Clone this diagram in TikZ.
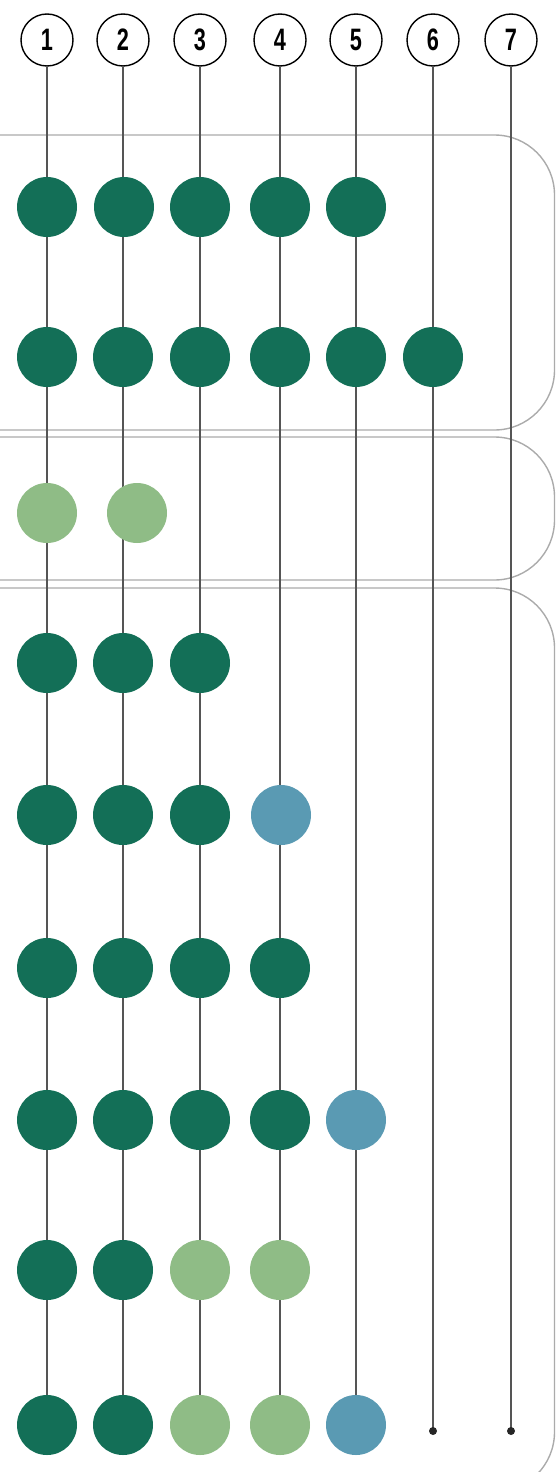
\documentclass[tikz,border=0pt]{standalone}
\usepackage{fontspec}
\newfontfamily\numfont{Liberation Sans}[FakeStretch=0.7]
\usetikzlibrary{backgrounds}
\definecolor{deepgreen}{HTML}{136F57}
\definecolor{palegreen}{HTML}{8FBC86}
\definecolor{steelblue}{HTML}{5A9AB3}
\definecolor{railgray}{HTML}{555555}
\definecolor{framegray}{HTML}{ABABAB}
\tikzset{
  every node/.style={
    inner sep=0pt
  },
  head/.style={
    circle, draw=black, line width=1.4pt, fill=white,
    minimum size=52pt,
    font=\numfont\bfseries\fontsize{31}{31}\selectfont
  },
  disc/.style={circle, minimum size=60pt},
  dk/.style={disc, fill=deepgreen},
  lt/.style={disc, fill=palegreen},
  bl/.style={disc, fill=steelblue},
  endpt/.style={circle, fill=black!85, minimum size=8pt},
  rail/.style={railgray, line width=2.3pt},
  groupframe/.style={framegray, line width=1.4pt, rounded corners=60pt}
}

\begin{document}
\begin{tikzpicture}[x=1pt,y=-1pt]

    \useasboundingbox (0,0) rectangle (556,1472);
    \clip (0,0) rectangle (556,1472);

    %-------------------------
    % header
    %-------------------------
    \foreach \i/\x in {1/47,2/123,3/200,4/280,5/356,6/433,7/511}
      \node[head] (h\i) at (\x,40) {\i};

    %-------------------------
    % group 1
    %-------------------------
    \node[dk] (a1) at (47,207) {};
    \node[dk] (a2) at (124,207) {};
    \node[dk] (a3) at (200,207) {};
    \node[dk] (a4) at (280,207) {};
    \node[dk] (a5) at (356,207) {};

    \node[dk] (b1) at (47,357) {};
    \node[dk] (b2) at (123,357) {};
    \node[dk] (b3) at (200,357) {};
    \node[dk] (b4) at (280,357) {};
    \node[dk] (b5) at (356,357) {};
    \node[dk] (b6) at (433,357) {};

    %-------------------------
    % group 2
    %-------------------------
    \node[lt] (c1) at (47,513) {};
    \node[lt] (c2) at (137,513) {};

    %-------------------------
    % group 3
    %-------------------------
    \node[dk] (d1) at (47,663) {};
    \node[dk] (d2) at (123,663) {};
    \node[dk] (d3) at (200,663) {};

    \node[dk] (e1) at (47,815) {};
    \node[dk] (e2) at (123,815) {};
    \node[dk] (e3) at (200,815) {};
    \node[bl] (e4) at (281,815) {};

    \node[dk] (f1) at (47,968) {};
    \node[dk] (f2) at (123,968) {};
    \node[dk] (f3) at (200,968) {};
    \node[dk] (f4) at (280,968) {};

    \node[dk] (g1) at (47,1120) {};
    \node[dk] (g2) at (123,1120) {};
    \node[dk] (g3) at (200,1120) {};
    \node[dk] (g4) at (280,1120) {};
    \node[bl] (g5) at (356,1120) {};

    \node[dk] (k1) at (47,1270) {};
    \node[dk] (k2) at (123,1270) {};
    \node[lt] (k3) at (200,1270) {};
    \node[lt] (k4) at (280,1270) {};

    \node[dk] (m1) at (47,1425) {};
    \node[dk] (m2) at (123,1425) {};
    \node[lt] (m3) at (200,1425) {};
    \node[lt] (m4) at (280,1425) {};
    \node[bl] (m5) at (356,1425) {};
    \node[endpt] (m6) at (433,1431) {};
    \node[endpt] (m7) at (511,1431) {};

    %-------------------------
    % frames and rails
    %-------------------------
    \begin{scope}[on background layer]
      \draw[groupframe] (-20,135) -- (554.5,135) -- (554.5,430) -- (-20,430);
      \draw[groupframe] (-20,437) -- (554.5,437) -- (554.5,580) -- (-20,580);
      \draw[groupframe] (-20,588) -- (554.5,588) -- (554.5,1492) -- (-20,1492);

      \draw[rail] (h1) -- (m1.center);
      \draw[rail] (h2) -- (m2.center);
      \draw[rail] (h3) -- (m3.center);
      \draw[rail] (h4) -- (m4.center);
      \draw[rail] (h5) -- (m5.center);
      \draw[rail] (h6) -- (m6.center);
      \draw[rail] (h7) -- (m7.center);
    \end{scope}

\end{tikzpicture}
\end{document}
